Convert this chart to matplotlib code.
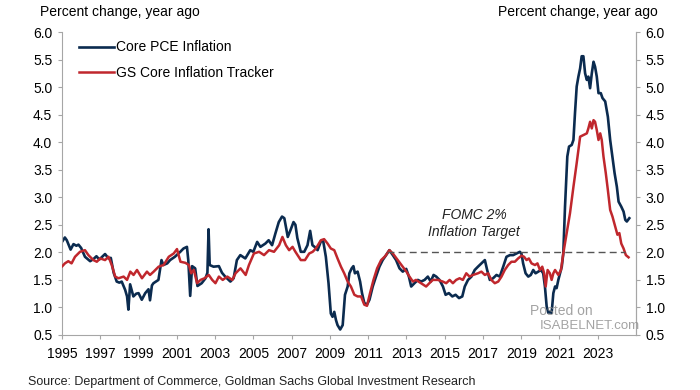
"""Core PCE inflation vs GS core inflation tracker, percent change year ago."""
import matplotlib; matplotlib.use("Agg"); import matplotlib.pyplot as plt

plt.rcParams["font.family"] = ["Liberation Sans", "DejaVu Sans"]

NAVY = "#0b2b4f"
RED = "#c0272d"
GREY = "#a6a6a6"

# core PCE inflation (decimal year, % y/y)
pce_t = [1995.02, 1995.15, 1995.25, 1995.45, 1995.6, 1995.75, 1995.86, 1996.0, 1996.2, 1996.47,
         1996.65, 1996.8, 1996.95, 1997.1, 1997.25, 1997.43, 1997.55, 1997.7, 1997.86, 1998.0,
         1998.12, 1998.3, 1998.4, 1998.47, 1998.56, 1998.73, 1998.88, 1999.0, 1999.17, 1999.35,
         1999.52, 1999.6, 1999.7, 1999.78, 2000.04, 2000.2, 2000.3, 2000.5, 2000.65, 2000.9,
         2001.18, 2001.35, 2001.53, 2001.6, 2001.7, 2001.8, 2001.96, 2002.08, 2002.3, 2002.5,
         2002.6, 2002.66, 2002.72, 2002.92, 2003.2, 2003.36, 2003.53, 2003.8, 2003.97, 2004.14,
         2004.32, 2004.58, 2004.84, 2005.0, 2005.2, 2005.37, 2005.63, 2005.8, 2005.98, 2006.15,
         2006.33, 2006.5, 2006.62, 2006.8, 2006.96, 2007.1, 2007.2, 2007.3, 2007.48, 2007.66,
         2007.83, 2007.97, 2008.09, 2008.2, 2008.36, 2008.53, 2008.65, 2008.79, 2008.93, 2009.05,
         2009.14, 2009.23, 2009.32, 2009.4, 2009.54, 2009.67, 2009.79, 2009.93, 2010.02, 2010.14,
         2010.23, 2010.31, 2010.45, 2010.58, 2010.68, 2010.8, 2010.94, 2011.07, 2011.24, 2011.41,
         2011.59, 2011.76, 2011.94, 2012.11, 2012.29, 2012.46, 2012.64, 2012.81, 2012.99, 2013.13,
         2013.25, 2013.42, 2013.6, 2013.77, 2013.95, 2014.12, 2014.27, 2014.42, 2014.56, 2014.73,
         2014.91, 2015.05, 2015.22, 2015.4, 2015.57, 2015.75, 2015.92, 2016.05, 2016.22, 2016.4,
         2016.57, 2016.74, 2016.92, 2017.1, 2017.22, 2017.36, 2017.53, 2017.71, 2017.88, 2018.06,
         2018.23, 2018.41, 2018.58, 2018.76, 2018.93, 2019.02, 2019.1, 2019.23, 2019.37, 2019.5,
         2019.63, 2019.75, 2019.89, 2020.03, 2020.15, 2020.24, 2020.33, 2020.42, 2020.5, 2020.59,
         2020.68, 2020.77, 2020.85, 2020.94, 2021.03, 2021.12, 2021.2, 2021.29, 2021.41, 2021.5,
         2021.64, 2021.73, 2021.81, 2021.9, 2021.99, 2022.08, 2022.16, 2022.25, 2022.34, 2022.43,
         2022.51, 2022.6, 2022.69, 2022.78, 2022.86, 2022.95, 2023.04, 2023.16, 2023.25, 2023.39,
         2023.53, 2023.65, 2023.74, 2023.88, 2024.0, 2024.09, 2024.23, 2024.35, 2024.44, 2024.52,
         2024.65]
pce_v = [2.2, 2.27, 2.22, 2.05, 2.15, 2.12, 2.14, 2.08, 1.92, 1.84,
         1.88, 1.93, 1.87, 1.92, 1.97, 1.89, 1.9, 1.63, 1.47, 1.45,
         1.47, 1.32, 1.2, 0.96, 1.42, 1.2, 1.25, 1.26, 1.14, 1.26,
         1.33, 1.13, 1.4, 1.44, 1.5, 1.86, 1.77, 1.8, 1.86, 1.92,
         2.01, 2.07, 2.1, 1.86, 1.21, 1.75, 1.71, 1.39, 1.44, 1.53,
         1.63, 2.42, 1.77, 1.74, 1.75, 1.63, 1.56, 1.47, 1.53, 1.86,
         1.95, 1.89, 2.04, 2.01, 2.19, 2.1, 2.16, 2.22, 2.13, 2.34,
         2.55, 2.65, 2.62, 2.28, 2.42, 2.55, 2.5, 2.26, 2.01, 2.01,
         2.13, 2.39, 2.13, 2.1, 2.04, 2.2, 2.21, 1.92, 1.44, 0.89,
         0.83, 0.92, 0.77, 0.68, 0.6, 0.68, 1.23, 1.38, 1.62, 1.71,
         1.75, 1.62, 1.65, 1.47, 1.26, 1.08, 1.05, 1.14, 1.38, 1.56,
         1.74, 1.86, 1.95, 2.04, 1.95, 1.86, 1.71, 1.65, 1.7, 1.56,
         1.38, 1.44, 1.5, 1.47, 1.5, 1.56, 1.47, 1.59, 1.56, 1.5,
         1.38, 1.23, 1.26, 1.2, 1.23, 1.17, 1.2, 1.38, 1.5, 1.56,
         1.68, 1.74, 1.8, 1.86, 1.68, 1.5, 1.53, 1.59, 1.56, 1.74,
         1.92, 1.95, 1.95, 1.98, 2.01, 1.97, 1.8, 1.62, 1.56, 1.59,
         1.68, 1.62, 1.65, 1.68, 1.62, 1.38, 1.02, 0.9, 0.92, 0.9,
         1.26, 1.38, 1.35, 1.5, 1.62, 1.74, 1.98, 2.83, 3.74, 3.92,
         3.95, 4.04, 4.52, 5.01, 5.19, 5.34, 5.56, 5.56, 5.25, 5.13,
         5.19, 4.98, 5.25, 5.46, 5.37, 5.19, 4.89, 4.89, 4.8, 4.74,
         4.46, 4.04, 3.8, 3.44, 3.19, 2.92, 2.83, 2.74, 2.59, 2.56,
         2.62]

# GS core inflation tracker
gs_t = [1995.02, 1995.15, 1995.33, 1995.5, 1995.68, 1995.94, 1996.2, 1996.38, 1996.64, 1996.82,
        1997.0, 1997.25, 1997.43, 1997.6, 1997.78, 1997.95, 1998.22, 1998.4, 1998.57, 1998.74,
        1998.92, 1999.18, 1999.44, 1999.6, 1999.79, 2000.05, 2000.31, 2000.58, 2000.84, 2001.01,
        2001.19, 2001.45, 2001.63, 2001.75, 2001.89, 2002.06, 2002.24, 2002.45, 2002.67, 2002.85,
        2003.02, 2003.2, 2003.4, 2003.64, 2003.9, 2004.07, 2004.33, 2004.6, 2004.77, 2005.03,
        2005.3, 2005.56, 2005.82, 2006.08, 2006.35, 2006.52, 2006.7, 2006.87, 2007.05, 2007.2,
        2007.48, 2007.7, 2007.92, 2008.1, 2008.27, 2008.53, 2008.7, 2008.88, 2009.05, 2009.23,
        2009.4, 2009.58, 2009.75, 2009.93, 2010.1, 2010.28, 2010.45, 2010.63, 2010.8, 2010.94,
        2011.1, 2011.28, 2011.47, 2011.68, 2011.89, 2012.11, 2012.29, 2012.55, 2012.81, 2013.0,
        2013.16, 2013.34, 2013.5, 2013.77, 2014.03, 2014.2, 2014.38, 2014.65, 2014.9, 2015.08,
        2015.26, 2015.43, 2015.6, 2015.78, 2015.95, 2016.13, 2016.3, 2016.48, 2016.74, 2016.92,
        2017.1, 2017.27, 2017.44, 2017.62, 2017.8, 2017.97, 2018.14, 2018.32, 2018.49, 2018.67,
        2018.84, 2019.02, 2019.15, 2019.28, 2019.4, 2019.54, 2019.72, 2019.85, 2019.98, 2020.1,
        2020.2, 2020.28, 2020.38, 2020.5, 2020.59, 2020.68, 2020.77, 2020.94, 2021.08, 2021.2,
        2021.38, 2021.55, 2021.73, 2021.9, 2022.08, 2022.25, 2022.43, 2022.51, 2022.6, 2022.69,
        2022.78, 2022.86, 2022.95, 2023.04, 2023.13, 2023.21, 2023.3, 2023.42, 2023.53, 2023.65,
        2023.77, 2023.91, 2024.03, 2024.13, 2024.23, 2024.35, 2024.47, 2024.61]
gs_v = [1.75, 1.8, 1.84, 1.8, 1.92, 2.01, 2.04, 1.95, 1.86, 1.83,
        1.89, 1.86, 1.92, 1.77, 1.56, 1.53, 1.56, 1.5, 1.65, 1.59,
        1.68, 1.53, 1.65, 1.59, 1.65, 1.74, 1.77, 1.92, 1.98, 2.06,
        1.83, 1.81, 1.77, 1.62, 1.68, 1.44, 1.5, 1.53, 1.59, 1.5,
        1.44, 1.56, 1.5, 1.56, 1.5, 1.62, 1.71, 1.59, 1.77, 1.98,
        2.01, 1.95, 2.04, 2.01, 2.13, 2.28, 2.13, 2.04, 2.1, 2.01,
        1.86, 1.86, 1.98, 2.01, 2.07, 2.22, 2.24, 2.16, 2.07, 2.04,
        1.89, 1.74, 1.62, 1.47, 1.38, 1.23, 1.2, 1.2, 1.05, 1.03,
        1.26, 1.5, 1.71, 1.86, 1.93, 2.04, 1.98, 1.86, 1.74, 1.65,
        1.56, 1.47, 1.5, 1.44, 1.38, 1.44, 1.5, 1.5, 1.47, 1.44,
        1.5, 1.44, 1.5, 1.53, 1.5, 1.62, 1.56, 1.59, 1.62, 1.65,
        1.59, 1.62, 1.5, 1.44, 1.47, 1.56, 1.68, 1.77, 1.83, 1.83,
        1.89, 1.94, 1.92, 1.86, 1.89, 1.8, 1.77, 1.8, 1.68, 1.74,
        1.62, 1.38, 1.68, 1.62, 1.5, 1.62, 1.68, 1.59, 1.68, 1.98,
        2.35, 2.71, 3.19, 3.62, 4.1, 4.13, 4.16, 4.25, 4.37, 4.25,
        4.4, 4.37, 4.22, 4.04, 4.16, 4.04, 3.74, 3.44, 3.13, 2.77,
        2.65, 2.47, 2.32, 2.35, 2.16, 2.07, 1.95, 1.91]

target_span = [2012.0, 2024.45]
target_level = 2.0
year_ticks = list(range(1995, 2025, 2))
y_ticks = [0.5, 1.0, 1.5, 2.0, 2.5, 3.0, 3.5, 4.0, 4.5, 5.0, 5.5, 6.0]

fig = plt.figure(figsize=(7, 3.9), dpi=100)
ax = fig.add_axes([62/700, 55/390, 574/700, 303/390])

ax.plot(gs_t, gs_v, color=RED, lw=1.8, label="GS Core Inflation Tracker", zorder=3)
ax.plot(pce_t, pce_v, color=NAVY, lw=1.9, label="Core PCE Inflation", zorder=2)
ax.plot(target_span, [target_level] * 2, color="#555555", lw=1.0, ls=(0, (5, 3)), zorder=4)
ax.text(2016.55, 2.53, "FOMC 2%\nInflation Target", ha="center", va="center",
        style="italic", fontsize=10, linespacing=1.25, color="#222222")

ax.set_xlim(1995, 2025)
ax.set_ylim(0.5, 6.0)
ax.set_xticks(year_ticks)
ax.set_yticks(y_ticks)
ax.set_yticklabels([f"{v:.1f}" for v in y_ticks])
ax.tick_params(axis="both", labelsize=10, length=3, color=GREY, pad=4)
ax.tick_params(axis="x", pad=6)
ax.spines["top"].set_visible(False)
for s in ["left", "right", "bottom"]:
    ax.spines[s].set_color(GREY)

ax2 = ax.twinx()
ax2.set_ylim(0.5, 6.0)
ax2.set_yticks(y_ticks)
ax2.set_yticklabels([f"{v:.1f}" for v in y_ticks])
ax2.tick_params(axis="y", labelsize=10, length=3, color=GREY, pad=4)
for s in ["top", "left", "bottom"]:
    ax2.spines[s].set_visible(False)
ax2.spines["right"].set_color(GREY)

h, l = ax.get_legend_handles_labels()
ax.legend(h[::-1], l[::-1], loc="upper left", bbox_to_anchor=(0.03, 0.972), frameon=False,
          fontsize=10, handlelength=2.5, handletextpad=0.15, labelspacing=0.8,
          borderpad=0, borderaxespad=0)

fig.text(40/700, 1 - 12/390, "Percent change, year ago", ha="left", va="center", fontsize=10)
fig.text(658/700, 1 - 12/390, "Percent change, year ago", ha="right", va="center", fontsize=10)
fig.text(28/700, 1 - 382/390, "Source: Department of Commerce, Goldman Sachs Global Investment Research",
         ha="left", va="center", fontsize=9, color="#222222")

# watermark
fig.text(530/700, 1 - 311/390, "Posted on", ha="left", va="center", fontsize=10, color="#8c8c8c", alpha=0.8)
fig.text(540/700, 1 - 326/390, "ISABELNET.com", ha="left", va="center", fontsize=9.5, color="#8c8c8c", alpha=0.8)

fig.savefig("out.png", dpi=100)
